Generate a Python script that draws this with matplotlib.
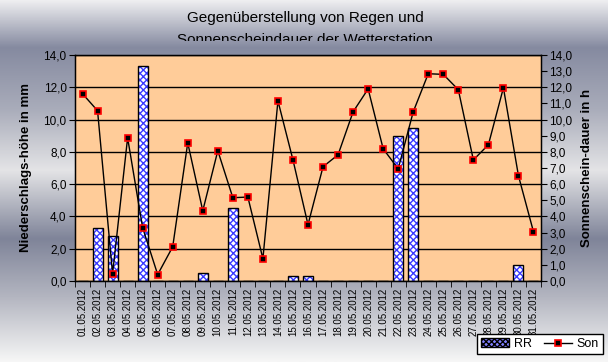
"""Gegenueberstellung von Regen und Sonnenscheindauer (Mai 2012)."""
import matplotlib
matplotlib.use("Agg")
import matplotlib.pyplot as plt
import numpy as np
from matplotlib.colors import LinearSegmentedColormap
from matplotlib.lines import Line2D
from matplotlib.patches import Patch
from matplotlib.ticker import FixedLocator, FuncFormatter, MultipleLocator
from matplotlib.transforms import Bbox, TransformedBbox

plt.rcParams["font.family"] = ["Liberation Sans", "DejaVu Sans"]

# Data
dates = [f"{d:02d}.05.2012" for d in range(1, 32)]
rain_mm = [0, 3.3, 2.8, 0, 13.3, 0, 0, 0, 0.5, 0, 4.5, 0, 0, 0, 0.3, 0.3,
           0, 0, 0, 0, 0, 9.0, 9.5, 0, 0, 0, 0, 0, 0, 1.0, 0]
sun_h = [11.6, 10.55, 0.45, 8.87, 3.3, 0.4, 2.12, 8.56, 4.35, 8.07, 5.16,
         5.2, 1.38, 11.16, 7.5, 3.49, 7.08, 7.82, 10.48, 11.9, 8.19, 6.95,
         10.48, 12.84, 12.8, 11.85, 7.5, 8.44, 11.97, 6.52, 3.05]

title_lines = ["Gegenüberstellung von Regen und",
               "Sonnenscheindauer der Wetterstation"]

fig = plt.figure(figsize=(6.08, 3.62), dpi=100)

# Gradient background of the chart area
bg = fig.add_axes([0, 0, 1, 1], zorder=-10)
stops = [(0.0, "#eeeef0"), (0.13, "#858aa0"), (0.3, "#a9acba"),
         (0.47, "#e4e4e6"), (0.66, "#7f8499"), (0.82, "#b3b5c0"),
         (1.0, "#f6f6f6")]
cmap_bg = LinearSegmentedColormap.from_list("bg", stops)
bg.imshow(np.linspace(0, 1, 256).reshape(-1, 1), cmap=cmap_bg,
          aspect="auto", extent=[0, 1, 0, 1])
bg.set_axis_off()

ax = fig.add_axes([75 / 608, 1 - 281 / 362, 466 / 608, 226 / 362])
ax.set_facecolor("#ffcc99")
x = np.arange(len(dates))

# Gridlines
ax.set_axisbelow(True)
ax.yaxis.grid(True, color="black", linewidth=1.0)

# Checkered bars: blue hatch layer plus black outline
ax.bar(x, rain_mm, width=0.665, color="white", edgecolor="#3a3aff",
       hatch="xxxxx", linewidth=0, zorder=2)
ax.bar(x, rain_mm, width=0.665, fill=False, edgecolor="black",
       linewidth=1.0, zorder=3)

ax.set_xlim(-0.5, len(dates) - 0.5)
ax.set_ylim(0, 14)
ax.yaxis.set_major_locator(MultipleLocator(2))
comma = FuncFormatter(lambda v, p: f"{v:.1f}".replace(".", ","))
ax.yaxis.set_major_formatter(comma)
ax.set_xticks(x)
ax.set_xticklabels(dates, rotation=90, fontsize=7)
ax.xaxis.set_minor_locator(FixedLocator(np.arange(-0.5, len(dates), 1)))
ax.tick_params(axis="x", which="major", length=0, pad=5)
ax.tick_params(axis="x", which="minor", length=4, direction="out")
ax.tick_params(axis="y", length=4, direction="out", labelsize=8.5, pad=2)
ax.set_ylabel("Niederschlags-höhe in mm", fontsize=9.5, fontweight="bold",
              labelpad=8)
for s in ax.spines.values():
    s.set_linewidth(1.0)

# Sunshine line on the secondary axis
ax2 = ax.twinx()
ax2.plot(x, sun_h, color="black", linewidth=1.0, marker="s",
         markersize=5, markerfacecolor="black", markeredgecolor="red",
         markeredgewidth=1.2, zorder=5)
ax2.set_ylim(0, 14)
ax2.yaxis.set_major_locator(MultipleLocator(1))
ax2.yaxis.set_major_formatter(comma)
ax2.tick_params(axis="y", length=4, direction="out", labelsize=8.5, pad=2)
ax2.set_ylabel("Sonnenschein-dauer in h", fontsize=9.5, fontweight="bold",
               rotation=90, labelpad=6)

# Title, second line clipped by the plot area like the original
clip = TransformedBbox(Bbox([[0, 1 - 41 / 362], [1, 1]]), fig.transFigure)
for i, line in enumerate(title_lines):
    t = fig.text(0.502, 1 - (18 + 22 * i) / 362, line, ha="center",
                 va="center", fontsize=11)
    t.set_clip_box(clip)
    t.set_clip_on(True)

handles = [Patch(facecolor="#8080ff", edgecolor="black", hatch="xxxxxx"),
           Line2D([0], [0], color="black", linewidth=1.0, marker="s",
                  markersize=5, markerfacecolor="black",
                  markeredgecolor="red", markeredgewidth=1.2)]
leg = fig.legend(handles, ["RR", "Son"], ncol=2, loc="center",
                 bbox_to_anchor=(540 / 608, 1 - 344 / 362), fontsize=9,
                 frameon=True, fancybox=False, edgecolor="black",
                 framealpha=1, handlelength=2.2, columnspacing=1.0,
                 borderpad=0.3, handletextpad=0.4)
leg.get_frame().set_linewidth(1.0)

fig.savefig("out.png", dpi=100)
